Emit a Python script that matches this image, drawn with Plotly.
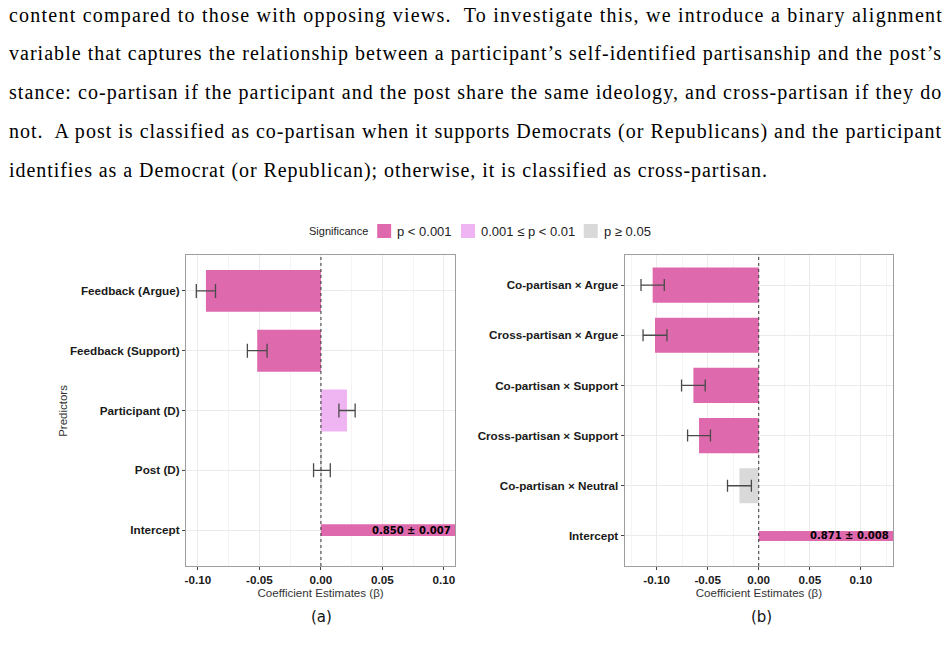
import plotly.graph_objects as go

W, H = 947, 651

# ---------------- data ----------------
text_lines = [
    "content compared to those with opposing views.  To investigate this, we introduce a binary alignment",
    "variable that captures the relationship between a participant’s self-identified partisanship and the post’s",
    "stance: co-partisan if the participant and the post share the same ideology, and cross-partisan if they do",
    "not.  A post is classified as co-partisan when it supports Democrats (or Republicans) and the participant",
    "identifies as a Democrat (or Republican); otherwise, it is classified as cross-partisan.",
]

sig_levels = ["p < 0.001", "0.001 ≤ p < 0.01", "p ≥ 0.05"]
sig_colors = ["#DF69AD", "#EFB4F2", "#D9D9D9"]

a_labels = ["Feedback (Argue)", "Feedback (Support)", "Participant (D)", "Post (D)"]
a_coef = [-0.0935, -0.0518, 0.0212, 0.0008]
a_ci = [0.0078, 0.0080, 0.0066, 0.0068]
a_sig = [0, 0, 1, 2]
a_int, a_int_se = 0.850, 0.007

b_labels = ["Co-partisan × Argue", "Cross-partisan × Argue", "Co-partisan × Support",
            "Cross-partisan × Support", "Co-partisan × Neutral"]
b_coef = [-0.1039, -0.1016, -0.0640, -0.0585, -0.0189]
b_ci = [0.0114, 0.0117, 0.0116, 0.0112, 0.0117]
b_sig = [0, 0, 0, 0, 2]
b_int, b_int_se = 0.871, 0.008

x_ticks = [-0.10, -0.05, 0.00, 0.05, 0.10]

# ---------------- layout helpers (pixel geometry) ----------------
def px_x(p):
    return p / W

def px_y(p):
    return 1 - p / H

fig = go.Figure()

panels = [
    dict(labels=a_labels, coef=a_coef, ci=a_ci, sig=a_sig, icpt=a_int, icpt_se=a_int_se,
         xa="x", ya="y", dom_x=(185.5, 455), rng=(-0.1096, 0.1090), cap=7),
    dict(labels=b_labels, coef=b_coef, ci=b_ci, sig=b_sig, icpt=b_int, icpt_se=b_int_se,
         xa="x2", ya="y2", dom_x=(625, 894), rng=(-0.1313, 0.1316), cap=6),
]

dom_y = (px_y(566), px_y(255))
tick_font = dict(family="Liberation Sans", size=11.7, color="#1a1a1a", weight="bold")

for i, p in enumerate(panels):
    cats = p["labels"] + ["Intercept"]
    for lvl in range(3):
        idx = [k for k, s in enumerate(p["sig"]) if s == lvl]
        if not idx:
            continue
        fig.add_trace(go.Bar(
            orientation="h",
            x=[p["coef"][k] for k in idx],
            y=[p["labels"][k] for k in idx],
            width=0.7,
            marker=dict(color=sig_colors[lvl], line=dict(width=0)),
            error_x=dict(type="data", array=[p["ci"][k] for k in idx], visible=True,
                         color="#4a4a4a", thickness=1.3, width=p["cap"]),
            name=sig_levels[lvl], showlegend=False,
            xaxis=p["xa"], yaxis=p["ya"], hoverinfo="skip",
        ))
    fig.add_trace(go.Bar(
        orientation="h", x=[p["icpt"]], y=["Intercept"], width=0.2,
        marker=dict(color=sig_colors[0], line=dict(width=0)),
        name=sig_levels[0], showlegend=False,
        xaxis=p["xa"], yaxis=p["ya"], hoverinfo="skip",
    ))
    fig.add_annotation(
        x=1, xref=("x domain" if i == 0 else "x2 domain"),
        y="Intercept", yref=p["ya"],
        text=f"<b>{p['icpt']:.3f} ± {p['icpt_se']:.3f}</b>",
        xanchor="right", yanchor="middle", xshift=-2, showarrow=False,
        font=dict(family="DejaVu Sans", size=10, color="#000000"),
    )
    fig.add_shape(type="line", x0=0, x1=0, y0=0, y1=1,
                  xref=p["xa"], yref=("y domain" if i == 0 else "y2 domain"),
                  line=dict(color="#333333", width=1, dash="3px,3px"), layer="above")

    xkey = "xaxis" if i == 0 else "xaxis2"
    ykey = "yaxis" if i == 0 else "yaxis2"
    n = len(cats)
    fig.update_layout(**{
        xkey: dict(
            domain=[px_x(p["dom_x"][0]), px_x(p["dom_x"][1])],
            anchor=p["ya"], range=list(p["rng"]),
            tickvals=x_ticks, ticktext=[f"{v:.2f}" for v in x_ticks],
            tickfont=tick_font,
            ticks="outside", ticklen=3, tickcolor="#444444",
            showgrid=True, gridcolor="#EBEBEB", gridwidth=1,
            minor=dict(dtick=0.025, tick0=0, showgrid=True, gridcolor="#F4F4F4", gridwidth=0.6),
            showline=True, mirror=True, linecolor="#9E9E9E", linewidth=1.2,
            zeroline=False,
            title=dict(text="Coefficient Estimates (β)", standoff=0,
                       font=dict(family="Liberation Sans", size=11.6, color="#333333")),
        ),
        ykey: dict(
            domain=list(dom_y), anchor=p["xa"],
            type="category", categoryorder="array", categoryarray=cats,
            range=[n - 0.4, -0.6],
            tickfont=tick_font,
            ticks="outside", ticklen=3, tickcolor="#444444",
            showgrid=True, gridcolor="#EBEBEB", gridwidth=1,
            showline=True, mirror=True, linecolor="#9E9E9E", linewidth=1.2,
            zeroline=False,
        ),
    })

# y-axis title (panel a)
fig.add_annotation(x=px_x(62), y=px_y(411), xref="paper", yref="paper",
                   text="Predictors", textangle=-90, showarrow=False,
                   xanchor="center", yanchor="middle",
                   font=dict(family="Liberation Sans", size=11.5, color="#333333"))

# captions
for txt, cx in [("(a)", 321), ("(b)", 762)]:
    fig.add_annotation(x=px_x(cx), y=px_y(617), xref="paper", yref="paper",
                       text=txt, showarrow=False, xanchor="center", yanchor="middle",
                       font=dict(family="DejaVu Sans", size=15, color="#111111"))

# legend (Significance)
leg_y = 231
fig.add_annotation(x=px_x(370), y=px_y(leg_y), xref="paper", yref="paper",
                   text="Significance", showarrow=False, xanchor="right", yanchor="middle",
                   font=dict(family="Liberation Sans", size=11, color="#222222"))
swatch_x = [377, 461, 584]
for lbl, col, sx in zip(sig_levels, sig_colors, swatch_x):
    fig.add_shape(type="rect", xref="paper", yref="paper",
                  x0=px_x(sx), x1=px_x(sx + 14), y0=px_y(leg_y + 7), y1=px_y(leg_y - 7),
                  fillcolor=col, line=dict(width=0))
    fig.add_annotation(x=px_x(sx + 18), y=px_y(leg_y), xref="paper", yref="paper",
                       text=lbl, showarrow=False, xanchor="left", yanchor="middle",
                       font=dict(family="Liberation Sans", size=13, color="#222222"))

# paragraph text (justified with letter spacing)
line_y = [15, 54, 93, 131, 170]
measured_w = [810, 823, 821, 827, 676]
target_w = [932, 932, 932, 932, 758]
for t, yy, mw, tw in zip(text_lines, line_y, measured_w, target_w):
    ls = (tw - mw) / max(len(t) - 1, 1)
    fig.add_annotation(x=px_x(6), y=px_y(yy), xref="paper", yref="paper",
                       text=f'<span style="letter-spacing:{ls:.3f}px">{t}</span>',
                       xanchor="left", yanchor="middle", showarrow=False,
                       font=dict(family="Liberation Serif", size=20, color="#000000"))

fig.update_layout(
    width=W, height=H,
    margin=dict(l=0, r=0, t=0, b=0),
    paper_bgcolor="white", plot_bgcolor="white",
    barmode="overlay",
    showlegend=False,
)

fig.write_html("out.html")
